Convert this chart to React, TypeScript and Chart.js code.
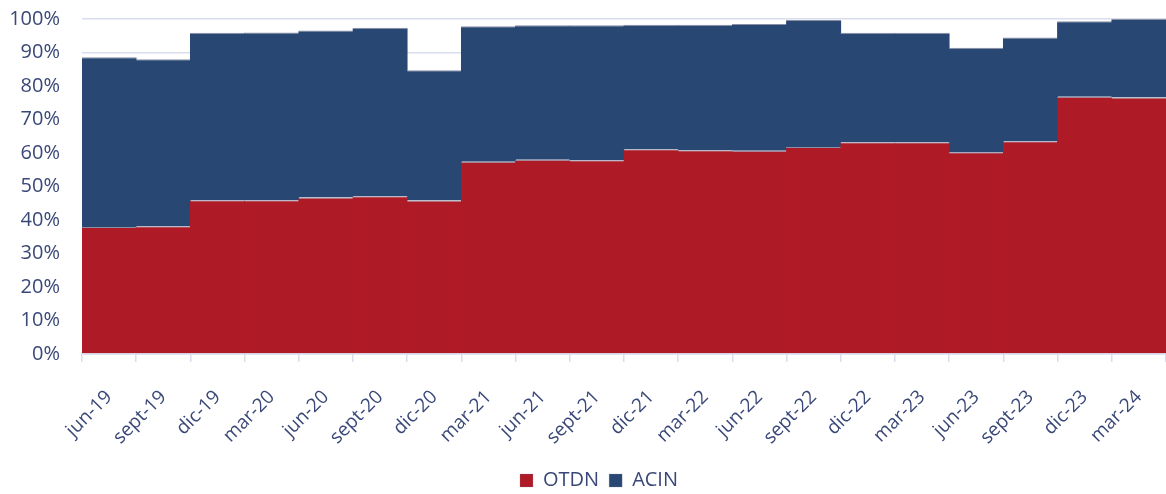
import React, { useEffect, useRef } from "react";
import { Chart, registerables } from "chart.js";

Chart.register(...registerables);

const categories = [
  "jun-19", "sept-19", "dic-19", "mar-20", "jun-20", "sept-20", "dic-20",
  "mar-21", "jun-21", "sept-21", "dic-21", "mar-22", "jun-22", "sept-22",
  "dic-22", "mar-23", "jun-23", "sept-23", "dic-23", "mar-24",
];

const otdn = [
  37.9, 38.1, 45.9, 45.9, 46.7, 47.1, 45.8, 57.4, 58.0, 57.8,
  61.1, 60.8, 60.7, 61.8, 63.2, 63.2, 60.2, 63.5, 76.8, 76.6,
];

const acin = [
  50.7, 49.9, 50.0, 50.1, 49.9, 50.3, 38.9, 40.4, 40.1, 40.3,
  37.2, 37.5, 37.8, 37.9, 32.7, 32.7, 31.2, 31.0, 22.5, 23.4,
];

const yTicks = [0, 10, 20, 30, 40, 50, 60, 70, 80, 90, 100];

const RED = "#AE1A25";
const BLUE = "#284773";
const TEXT = "#3A4878";
const GRID = "#D9DEEE";
const EDGE = "#8B8FA6";
const FONT = "'Open Sans', 'Noto Sans', sans-serif";

const legendShift = {
  id: "legendShift",
  afterLayout(chart: any) {
    const lg = chart.legend;
    if (!lg) return;
    lg.top += 6.5;
    lg.bottom += 6.5;
    lg.left += 16;
    lg.right += 16;
  },
};

export default function App() {
  const ref = useRef<HTMLCanvasElement | null>(null);

  useEffect(() => {
    if (!ref.current) return;
    const chart = new Chart(ref.current, {
      type: "bar",
      data: {
        labels: categories,
        datasets: [
          {
            label: "OTDN",
            data: otdn,
            backgroundColor: RED,
            borderColor: EDGE,
            borderWidth: { top: 1, left: 0, right: 0, bottom: 0 },
            borderSkipped: false,
            barPercentage: 1.02,
            categoryPercentage: 1,
          },
          {
            label: "ACIN",
            data: acin,
            backgroundColor: BLUE,
            borderColor: EDGE,
            borderWidth: { top: 1, left: 0, right: 0, bottom: 0 },
            borderSkipped: false,
            barPercentage: 1.02,
            categoryPercentage: 1,
          },
        ],
      },
      plugins: [legendShift],
      options: {
        responsive: false,
        animation: false,
        layout: { padding: { top: 19, right: 0, bottom: 0, left: 0 } },
        plugins: {
          legend: {
            position: "bottom",
            labels: {
              color: TEXT,
              font: { family: FONT, size: 20 },
              boxWidth: 13,
              boxHeight: 13,
              padding: 10,
            },
          },
          tooltip: { enabled: false },
        },
        scales: {
          x: {
            stacked: true,
            offset: true,
            afterFit: (axis: any) => {
              axis.height = 100;
              axis.paddingLeft = 0;
              axis.paddingRight = 0;
            },
            grid: {
              offset: true,
              drawOnChartArea: false,
              drawTicks: true,
              tickLength: 8,
              color: GRID,
              lineWidth: 1.5,
            },
            border: { display: true, color: GRID, width: 1.5 },
            ticks: {
              color: TEXT,
              font: { family: FONT, size: 19 },
              maxRotation: 45,
              minRotation: 45,
              autoSkip: false,
              padding: 24,
            },
          },
          y: {
            stacked: true,
            min: 0,
            max: 100,
            afterFit: (axis: any) => {
              axis.width = 82;
              axis.paddingTop = 0;
              axis.paddingBottom = 0;
            },
            afterBuildTicks: (axis: any) => {
              axis.ticks = yTicks.map((v) => ({ value: v }));
            },
            grid: {
              color: GRID,
              lineWidth: 1.5,
              drawTicks: false,
            },
            border: { display: false },
            ticks: {
              color: TEXT,
              font: { family: FONT, size: 20 },
              padding: 22,
              callback: (v: any) => `${v}%`,
            },
          },
        },
      },
    });
    return () => chart.destroy();
  }, []);

  return (
    <div style={{ position: "absolute", left: 0, top: 0, width: 1166, height: 494 }}>
      <canvas ref={ref} width={1166} height={494} style={{ width: 1166, height: 494 }} />
    </div>
  );
}
